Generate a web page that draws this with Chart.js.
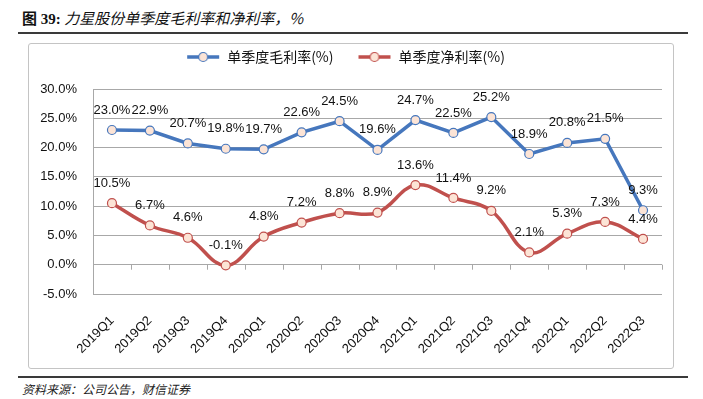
<!DOCTYPE html>
<html>
<head>
<meta charset="utf-8">
<script src="https://cdn.jsdelivr.net/npm/chart.js@4"></script>
<style>
  html, body { margin: 0; padding: 0; background: #fff; }
  body { width: 703px; height: 399px; position: relative; overflow: hidden; font-family: "Noto Sans CJK SC", sans-serif; }
  .title { position: absolute; left: 22px; top: 7px; font-size: 15px; color: #111; white-space: nowrap; }
  .title b { font-family: "Liberation Serif", "Noto Sans CJK SC", serif; font-weight: bold; }
  .title i { font-style: italic; }
  .rule { position: absolute; left: 18px; width: 670px; height: 2px; background: #3a3a3a; }
  .box { position: absolute; left: 28px; top: 43px; width: 644px; height: 324px; border: 1px solid #c4c4c4; border-radius: 3px; }
  .box canvas { position: absolute; left: 0; top: 0; }
  .source { position: absolute; left: 22px; top: 380px; font-size: 12px; font-style: italic; color: #222; white-space: nowrap; }
</style>
</head>
<body>
<div class="title"><b>图 39:</b> <i>力星股份单季度毛利率和净利率，%</i></div>
<div class="rule" style="top:32px"></div>
<div class="box"><canvas id="chart" width="644" height="324"></canvas></div>
<div class="rule" style="top:376px"></div>
<div class="source">资料来源：公司公告，财信证券</div>

<script>
// Data
const quarters = ['2019Q1', '2019Q2', '2019Q3', '2019Q4', '2020Q1', '2020Q2', '2020Q3', '2020Q4',
  '2021Q1', '2021Q2', '2021Q3', '2021Q4', '2022Q1', '2022Q2', '2022Q3'];
const grossMargin = [23.0, 22.9, 20.7, 19.8, 19.7, 22.6, 24.5, 19.6, 24.7, 22.5, 25.2, 18.9, 20.8, 21.5, 9.3];
const netMargin = [10.5, 6.7, 4.6, -0.1, 4.8, 7.2, 8.8, 8.9, 13.6, 11.4, 9.2, 2.1, 5.3, 7.3, 4.4];
const yTicks = [-5, 0, 5, 10, 15, 20, 25, 30];

const BLUE = '#4677bd';
const RED = '#c0504d';
const MARKER_FILL = '#fce4d6';
const GRID = '#a8a8a8';

// Legend marker: short line with a circle
function legendMarker(color) {
  const c = document.createElement('canvas');
  c.width = 34; c.height = 12;
  const g = c.getContext('2d');
  g.strokeStyle = color;
  g.lineWidth = 3.5;
  g.beginPath(); g.moveTo(1, 6); g.lineTo(33, 6); g.stroke();
  g.fillStyle = MARKER_FILL;
  g.lineWidth = 1.2;
  g.beginPath(); g.arc(17, 6, 4.5, 0, Math.PI * 2); g.fill(); g.stroke();
  return c;
}

// Keep the legend block a fixed height so the plot starts where it should
const legendHeight = {
  id: 'legendHeight',
  afterInit(chart) {
    const lg = chart.legend;
    const fit = lg.fit;
    lg.fit = function() { fit.call(this); this.height = 63; };
  }
};

// Tick marks on the zero line at category boundaries
const zeroTicks = {
  id: 'zeroTicks',
  beforeDatasetsDraw(chart) {
    const { ctx, chartArea, scales } = chart;
    const y0 = scales.y.getPixelForValue(0);
    const w = (chartArea.right - chartArea.left) / quarters.length;
    ctx.save();
    ctx.strokeStyle = GRID;
    ctx.lineWidth = 1;
    for (let i = 1; i <= quarters.length; i++) {
      const x = Math.round(chartArea.left + i * w) + 0.5;
      ctx.beginPath();
      ctx.moveTo(x, y0);
      ctx.lineTo(x, y0 + 5);
      ctx.stroke();
    }
    ctx.restore();
  }
};

// Value labels above each point
const valueLabels = {
  id: 'valueLabels',
  afterDatasetsDraw(chart) {
    const { ctx } = chart;
    ctx.save();
    ctx.font = '13px "Liberation Sans", sans-serif';
    ctx.fillStyle = '#111';
    ctx.textAlign = 'center';
    ctx.textBaseline = 'middle';
    chart.data.datasets.forEach((ds, di) => {
      chart.getDatasetMeta(di).data.forEach((pt, i) => {
        ctx.fillText(ds.data[i].toFixed(1) + '%', pt.x, pt.y - 20);
      });
    });
    ctx.restore();
  }
};

new Chart(document.getElementById('chart'), {
  type: 'line',
  data: {
    labels: quarters,
    datasets: [
      {
        label: '单季度毛利率(%)',
        data: grossMargin,
        borderColor: BLUE,
        borderWidth: 3.5,
        tension: 0,
        pointRadius: 4.5,
        pointBorderWidth: 1.2,
        pointBackgroundColor: MARKER_FILL,
        pointBorderColor: BLUE,
        pointStyle: 'circle'
      },
      {
        label: '单季度净利率(%)',
        data: netMargin,
        borderColor: RED,
        borderWidth: 3.5,
        tension: 0.4,
        cubicInterpolationMode: 'default',
        pointRadius: 4.5,
        pointBorderWidth: 1.2,
        pointBackgroundColor: MARKER_FILL,
        pointBorderColor: RED,
        pointStyle: 'circle'
      }
    ]
  },
  options: {
    responsive: false,
    animation: false,
    layout: { padding: { left: 0, right: 11, top: -18, bottom: 0 } },
    plugins: {
      legend: {
        position: 'top',
        labels: {
          usePointStyle: true,
          pointStyleWidth: 34,
          padding: 24,
          color: '#111',
          font: { family: '"Noto Sans CJK SC", sans-serif', size: 14 },
          generateLabels(chart) {
            return chart.data.datasets.map((ds, i) => ({
              text: ds.label,
              pointStyle: legendMarker(ds.borderColor),
              fillStyle: ds.borderColor,
              strokeStyle: ds.borderColor,
              lineWidth: 0,
              fontColor: '#111',
              datasetIndex: i
            }));
          }
        }
      },
      tooltip: { enabled: false }
    },
    scales: {
      x: {
        offset: true,
        grid: { display: false },
        border: { display: false },
        ticks: {
          minRotation: 45,
          maxRotation: 45,
          padding: 11,
          color: '#111',
          font: { family: '"Liberation Sans", sans-serif', size: 13 }
        },
        afterFit(s) { s.height = 74; }
      },
      y: {
        min: -5,
        max: 30,
        afterBuildTicks(s) { s.ticks = yTicks.map(v => ({ value: v })); },
        grid: { color: GRID, drawTicks: false },
        border: { color: GRID },
        ticks: {
          padding: 16,
          color: '#111',
          font: { family: '"Liberation Sans", sans-serif', size: 13 },
          callback: v => v.toFixed(1) + '%'
        },
        afterFit(s) { s.width = 64; }
      }
    }
  },
  plugins: [legendHeight, zeroTicks, valueLabels]
});
</script>
</body>
</html>
